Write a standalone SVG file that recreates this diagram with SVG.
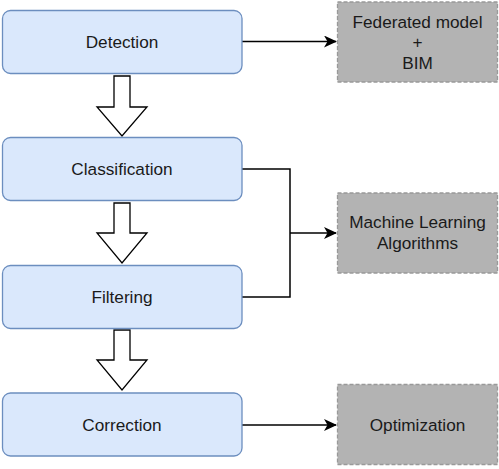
<svg xmlns="http://www.w3.org/2000/svg" width="499" height="469" viewBox="0 0 499 469">
<defs>
<style>
.step{fill:#dae8fc;stroke:#6c8ebf;stroke-width:1.3}
.out{fill:#b3b3b3;stroke:#999999;stroke-width:1.3;stroke-dasharray:4 2}
.t{font-family:"Liberation Sans",Arial,sans-serif;font-size:17.2px;fill:#1a1a1a;text-anchor:middle;dominant-baseline:central}
.c{fill:none;stroke:#000;stroke-width:1.5}
.blk{fill:#fff;stroke:#000;stroke-width:1.3}
</style>
<marker id="ah" viewBox="0 0 13 12" refX="12" refY="6" markerWidth="13" markerHeight="12" markerUnits="userSpaceOnUse" orient="auto">
<path d="M0,0 L13,6 L0,12 L3.5,6 Z" fill="#000"/>
</marker>
</defs>
<g id="connectors">
<path class="c" d="M242,41.5 H336" marker-end="url(#ah)"/>
<path class="c" d="M242,169 H290 V297 H242"/>
<path class="c" d="M290,233 H336" marker-end="url(#ah)"/>
<path class="c" d="M242,425 H336" marker-end="url(#ah)"/>
<polygon class="blk" points="114,76 130,76 130,107 147,107 122,136 97,107 114,107"/>
<polygon class="blk" points="114,203 130,203 130,233 147,233 122,263 97,233 114,233"/>
<polygon class="blk" points="114,330 130,330 130,360 147,360 122,390 97,360 114,360"/>
</g>
<g id="detection"><rect class="step" x="2.5" y="10.5" width="239.5" height="63" rx="8"/><text class="t" x="122" y="42">Detection</text></g>
<g id="classification"><rect class="step" x="2.5" y="137.5" width="239.5" height="63" rx="8"/><text class="t" x="122" y="169">Classification</text></g>
<g id="filtering"><rect class="step" x="2.5" y="265.5" width="239.5" height="63" rx="8"/><text class="t" x="122" y="297">Filtering</text></g>
<g id="correction"><rect class="step" x="2.5" y="393" width="239.5" height="63" rx="8"/><text class="t" x="122" y="425">Correction</text></g>
<g id="federated"><rect class="out" x="337.5" y="2" width="160" height="80"/><text class="t" x="417.5" y="22">Federated model</text><text class="t" x="417.5" y="42">+</text><text class="t" x="417.5" y="63">BIM</text></g>
<g id="ml"><rect class="out" x="337.5" y="193" width="160" height="80"/><text class="t" x="417.5" y="222">Machine Learning</text><text class="t" x="417.5" y="243">Algorithms</text></g>
<g id="optimization"><rect class="out" x="337.5" y="384.5" width="160" height="80"/><text class="t" x="417.5" y="425">Optimization</text></g>
</svg>
